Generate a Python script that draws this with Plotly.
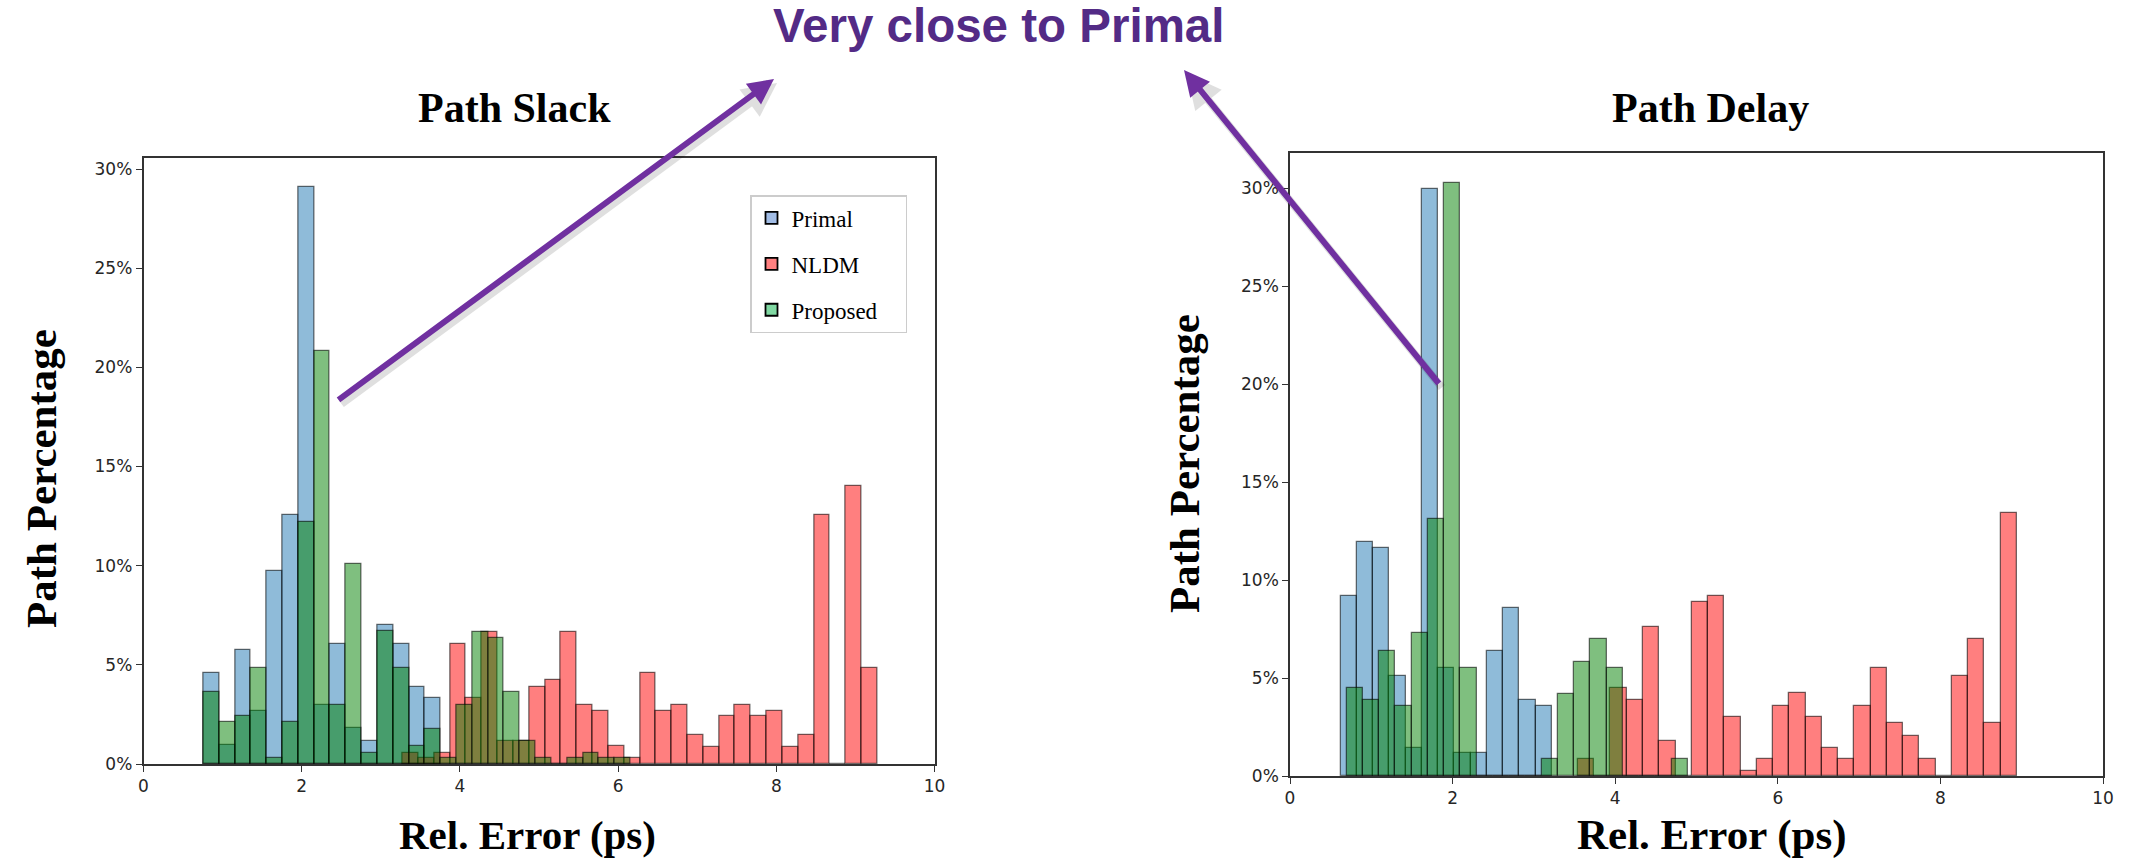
import numpy as np
import plotly.graph_objects as go

W, H = 2134, 865
BIN_W = 0.2  # histogram bin width (ps)

# ---- Path Slack: share of paths (%) per 0.2 ps bin, from the first bin's left edge ----
slack_primal_start = 0.757
slack_primal = [4.58, 0.94, 5.77, 2.69, 9.73, 12.55, 29.1, 3.0, 6.06, 1.8,
                1.18, 6.99, 6.06, 3.9, 3.35]
slack_nldm_start = 3.277
slack_nldm = [0.56, 0.29, 0.56, 6.06, 3.33, 6.68, 1.18, 1.18, 3.9, 4.26,
              6.68, 2.98, 2.69, 0.89, 0.29, 4.58, 2.69, 2.99, 1.47, 0.88,
              2.4, 2.99, 2.4, 2.69, 0.88, 1.47, 12.53, 0.0, 14.02, 4.84]
slack_proposed_start = 0.757
slack_proposed = [3.65, 2.14, 2.44, 4.83, 0.3, 2.14, 12.2, 20.8, 3.0, 10.1,
                  0.54, 6.7, 4.83, 0.91, 1.77, 0.29, 2.98, 6.68, 6.35, 3.65,
                  1.18, 0.29, 0.0, 0.29, 0.56, 0.29, 0.29]

# ---- Path Delay ----
delay_primal_start = 0.622
delay_primal = [9.18, 11.93, 11.62, 5.1, 1.45, 30.0, 5.5, 1.17, 1.17, 6.4,
                8.6, 3.9, 3.6]
delay_nldm_start = 3.542
delay_nldm = [0.87, 0.0, 4.5, 3.9, 7.6, 1.77, 0.0, 8.87, 9.18, 3.03,
              0.26, 0.87, 3.6, 4.24, 3.03, 1.45, 0.87, 3.6, 5.5, 2.73,
              2.06, 0.87, 0.0, 5.1, 7.0, 2.73, 13.44]
delay_proposed_start = 0.695
delay_proposed = [4.5, 3.9, 6.4, 3.6, 7.3, 13.1, 30.3, 5.5, 0.0, 0.0,
                  0.0, 0.0, 0.87, 4.2, 5.8, 7.0, 5.5, 0.0, 0.0, 0.0, 0.87]

x_ticks = [0, 2, 4, 6, 8, 10]
y_ticks = [0, 5, 10, 15, 20, 25, 30]
y_tick_labels = ["0%", "5%", "10%", "15%", "20%", "25%", "30%"]
series_names = ["Primal", "NLDM", "Proposed"]

BAR_FILL = {"Primal": "rgba(31,119,180,0.5)",
            "NLDM": "rgba(255,0,0,0.5)",
            "Proposed": "rgba(0,128,0,0.5)"}
LEGEND_FILL = {"Primal": "#a2bde6", "NLDM": "#ff8080", "Proposed": "#80d8a2"}
EDGE = "rgba(0,0,0,0.55)"


def left_edges(start, values):
    return start + BIN_W * np.arange(len(values))


fig = go.Figure()

panels = [
    ("x", "y", [(slack_primal_start, slack_primal),
                (slack_nldm_start, slack_nldm),
                (slack_proposed_start, slack_proposed)]),
    ("x2", "y2", [(delay_primal_start, delay_primal),
                  (delay_nldm_start, delay_nldm),
                  (delay_proposed_start, delay_proposed)]),
]

for xa, ya, series in panels:
    for name, (start, vals) in zip(series_names, series):
        fig.add_trace(go.Bar(
            x=left_edges(start, vals), y=vals, width=BIN_W, offset=0,
            name=name, showlegend=False, xaxis=xa, yaxis=ya,
            marker=dict(color=BAR_FILL[name], line=dict(color=EDGE, width=1.3)),
        ))

# legend entries (patch colours of the legend box); trailing space pads the box
for name in series_names:
    fig.add_trace(go.Bar(
        x=[None], y=[None], name=name + "\u2003", legendgroup=name, showlegend=True,
        xaxis="x", yaxis="y",
        marker=dict(color=LEGEND_FILL[name], line=dict(color="black", width=1.8)),
    ))

slack_top = 1.05 * max(max(slack_primal), max(slack_nldm), max(slack_proposed))
delay_top = 1.05 * max(max(delay_primal), max(delay_nldm), max(delay_proposed))

tick_font = dict(family="DejaVu Sans", size=17, color="#262626")


def xaxis(domain):
    return dict(domain=domain, range=[0, 10], tickmode="array", tickvals=x_ticks,
                showline=True, mirror=True, linecolor="#333", linewidth=1.5,
                ticks="outside", ticklen=6, tickwidth=1.3, tickcolor="#333",
                showgrid=False, zeroline=False, tickfont=tick_font,
                automargin=False, fixedrange=True)


def yaxis(domain, top, anchor):
    return dict(domain=domain, range=[0, top], tickmode="array",
                tickvals=y_ticks, ticktext=y_tick_labels, anchor=anchor,
                showline=True, mirror=True, linecolor="#333", linewidth=1.5,
                ticks="outside", ticklen=6, tickwidth=1.3, tickcolor="#333",
                showgrid=False, zeroline=False, tickfont=tick_font,
                automargin=False, fixedrange=True)


fig.update_layout(
    width=W, height=H,
    margin=dict(l=0, r=0, t=0, b=0),
    paper_bgcolor="white", plot_bgcolor="white",
    barmode="overlay", bargap=0,
    xaxis=dict(xaxis([143.5 / W, 934.5 / W]), anchor="y"),
    yaxis=yaxis([1 - 764 / H, 1 - 158 / H], slack_top, "x"),
    xaxis2=dict(xaxis([1290 / W, 2103 / W]), anchor="y2"),
    yaxis2=yaxis([1 - 776 / H, 1 - 153 / H], delay_top, "x2"),
    legend=dict(x=750 / W, y=1 - 195 / H, xanchor="left", yanchor="top",
                bgcolor="white", bordercolor="#cccccc", borderwidth=1.5,
                font=dict(family="Liberation Serif", size=23, color="black"),
                traceorder="grouped", tracegroupgap=13,
                itemclick=False, itemdoubleclick=False),
)


def text_at(text, px, py, size, family="Liberation Serif", color="black", angle=0):
    return dict(text=text, x=px / W, y=1 - py / H, xref="paper", yref="paper",
                showarrow=False, textangle=angle,
                font=dict(family=family, size=size, color=color),
                xanchor="center", yanchor="middle")


annotations = [
    text_at("<b>Path Slack</b>", 514, 108, 42),
    text_at("<b>Path Delay</b>", 1710, 108, 42),
    text_at("<b>Very close to Primal</b>", 998, 26, 47.5,
            family="Liberation Sans", color="#532b86"),
    # axis titles
    text_at("<b>Rel. Error (ps)</b>", 527, 835, 41),
    text_at("<b>Rel. Error (ps)</b>", 1712, 835, 43),
    text_at("<b>Path Percentage</b>", 41, 479, 43, angle=-90),
    text_at("<b>Path Percentage</b>", 1185, 464, 43, angle=-90),
]

# callout arrows (soft shadow first, then the purple arrow)
arrows = [((774, 79), (337, 401)), ((1184, 70), (1440, 385))]
for (tx, ty), (sx, sy) in arrows:
    annotations.append(dict(
        x=(tx + 3) / W, y=1 - (ty + 4) / H, xref="paper", yref="paper", text="",
        showarrow=True, ax=sx - tx, ay=sy - ty, axref="pixel", ayref="pixel",
        arrowhead=2, arrowsize=0.85, arrowwidth=8, arrowcolor="rgba(0,0,0,0.12)",
        standoff=0, startstandoff=0))
for (tx, ty), (sx, sy) in arrows:
    annotations.append(dict(
        x=tx / W, y=1 - ty / H, xref="paper", yref="paper", text="",
        showarrow=True, ax=sx - tx, ay=sy - ty, axref="pixel", ayref="pixel",
        arrowhead=2, arrowsize=0.85, arrowwidth=6, arrowcolor="#7030a0",
        standoff=0, startstandoff=0))

fig.update_layout(annotations=annotations)

fig.write_html("out.html")
